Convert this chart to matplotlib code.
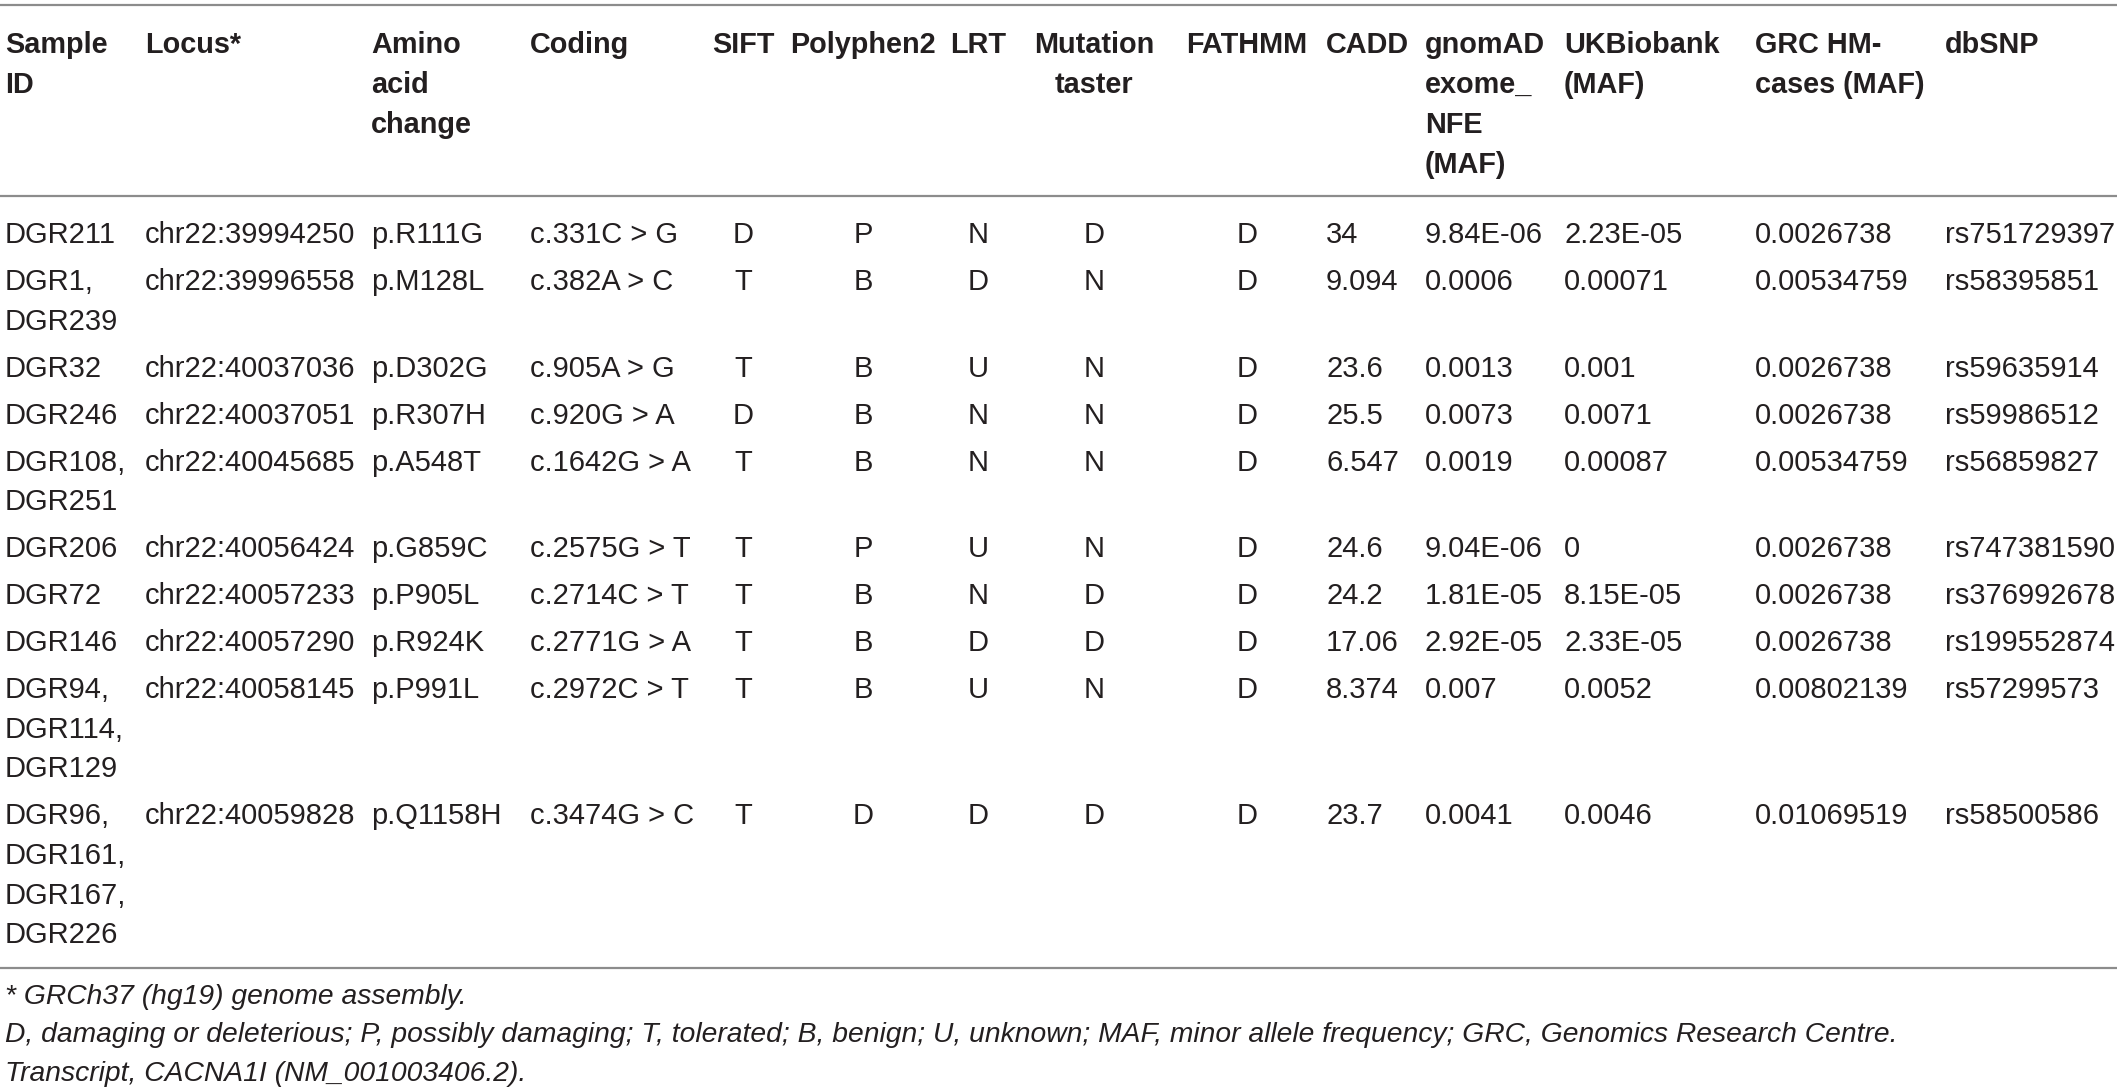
import matplotlib.pyplot as plt

# ---- table contents ----
sample_ids = [
    ["DGR211"],
    ["DGR1,", "DGR239"],
    ["DGR32"],
    ["DGR246"],
    ["DGR108,", "DGR251"],
    ["DGR206"],
    ["DGR72"],
    ["DGR146"],
    ["DGR94,", "DGR114,", "DGR129"],
    ["DGR96,", "DGR161,", "DGR167,", "DGR226"],
]
locus = ["chr22:39994250", "chr22:39996558", "chr22:40037036", "chr22:40037051",
         "chr22:40045685", "chr22:40056424", "chr22:40057233", "chr22:40057290",
         "chr22:40058145", "chr22:40059828"]
amino = ["p.R111G", "p.M128L", "p.D302G", "p.R307H", "p.A548T",
         "p.G859C", "p.P905L", "p.R924K", "p.P991L", "p.Q1158H"]
coding = ["c.331C > G", "c.382A > C", "c.905A > G", "c.920G > A", "c.1642G > A",
          "c.2575G > T", "c.2714C > T", "c.2771G > A", "c.2972C > T", "c.3474G > C"]
sift = ["D", "T", "T", "D", "T", "T", "T", "T", "T", "T"]
polyphen2 = ["P", "B", "B", "B", "B", "P", "B", "B", "B", "D"]
lrt = ["N", "D", "U", "N", "N", "U", "N", "D", "U", "D"]
mut_taster = ["D", "N", "N", "N", "N", "N", "D", "D", "N", "D"]
fathmm = ["D", "D", "D", "D", "D", "D", "D", "D", "D", "D"]
cadd = ["34", "9.094", "23.6", "25.5", "6.547", "24.6", "24.2", "17.06", "8.374", "23.7"]
gnomad = ["9.84E-06", "0.0006", "0.0013", "0.0073", "0.0019",
          "9.04E-06", "1.81E-05", "2.92E-05", "0.007", "0.0041"]
ukbiobank = ["2.23E-05", "0.00071", "0.001", "0.0071", "0.00087",
             "0", "8.15E-05", "2.33E-05", "0.0052", "0.0046"]
grc = ["0.0026738", "0.00534759", "0.0026738", "0.0026738", "0.00534759",
       "0.0026738", "0.0026738", "0.0026738", "0.00802139", "0.01069519"]
dbsnp = ["rs751729397", "rs58395851", "rs59635914", "rs59986512", "rs56859827",
         "rs747381590", "rs376992678", "rs199552874", "rs57299573", "rs58500586"]

headers = [
    ["Sample", "ID"], ["Locus*"], ["Amino", "acid", "change"], ["Coding"],
    ["SIFT"], ["Polyphen2"], ["LRT"], ["Mutation", "taster"], ["FATHMM"],
    ["CADD"], ["gnomAD", "exome_", "NFE", "(MAF)"], ["UKBiobank", "(MAF)"],
    ["GRC HM-", "cases (MAF)"], ["dbSNP"],
]

footnotes = [
    "* GRCh37 (hg19) genome assembly.",
    "D, damaging or deleterious; P, possibly damaging; T, tolerated; B, benign; "
    "U, unknown; MAF, minor allele frequency; GRC, Genomics Research Centre.",
    "Transcript, CACNA1I (NM_001003406.2).",
]

columns = [None, locus, amino, coding, sift, polyphen2, lrt, mut_taster, fathmm,
           cadd, gnomad, ukbiobank, grc, dbsnp]

# ---- layout (pixels) ----
W, H = 2117, 1091
TXT = "#231f20"
RULE = "#8c8c8c"
FS = 21
FS_HEAD = 20.8
FS_NOTE = 20.3
# (x, ha) for header and body of each column
col_pos = [(5, "left"), (145, "left"), (371, "left"), (530, "left"),
           (743, "center"), (863, "center"), (978, "center"), (1094, "center"),
           (1247, "center"), (1326, "left"), (1425, "left"), (1564, "left"),
           (1755, "left"), (1945, "left")]
HEAD_Y, HEAD_LINE = 42, 40
BODY_Y = 232
LINE = 39.6    # pitch between lines inside a cell
ROWGAP = 47    # pitch between the last line of a row and next row
CAP = 11       # half cap height, baseline offset from visual centre

plt.rcParams["font.family"] = ["Liberation Sans", "DejaVu Sans"]
fig = plt.figure(figsize=(W / 100, H / 100), dpi=100)
ax = fig.add_axes([0, 0, 1, 1])
ax.set_xlim(0, W)
ax.set_ylim(H, 0)
ax.axis("off")

# rules
for y in (5, 196, 968):
    ax.plot([0, W], [y, y], color=RULE, lw=1.6, solid_capstyle="butt")

# header
for (x, ha), lines in zip(col_pos, headers):
    for k, t in enumerate(lines):
        ax.text(x, HEAD_Y + k * HEAD_LINE + CAP, t, ha=ha, va="baseline",
                fontsize=FS_HEAD, fontweight="bold", color=TXT)

# body
y = BODY_Y
for i, ids in enumerate(sample_ids):
    for k, t in enumerate(ids):
        ax.text(col_pos[0][0], y + k * LINE + CAP, t, ha="left", va="baseline",
                fontsize=FS, color=TXT)
    for (x, ha), col in zip(col_pos[1:], columns[1:]):
        ax.text(x, y + CAP, col[i], ha=ha, va="baseline", fontsize=FS, color=TXT)
    y += (len(ids) - 1) * LINE + ROWGAP

# footnotes
for k, t in enumerate(footnotes):
    ax.text(5, 993 + k * 38.5 + CAP, t, ha="left", va="baseline", fontsize=FS_NOTE,
            style="italic", color=TXT)

fig.savefig("out.png", dpi=100)
